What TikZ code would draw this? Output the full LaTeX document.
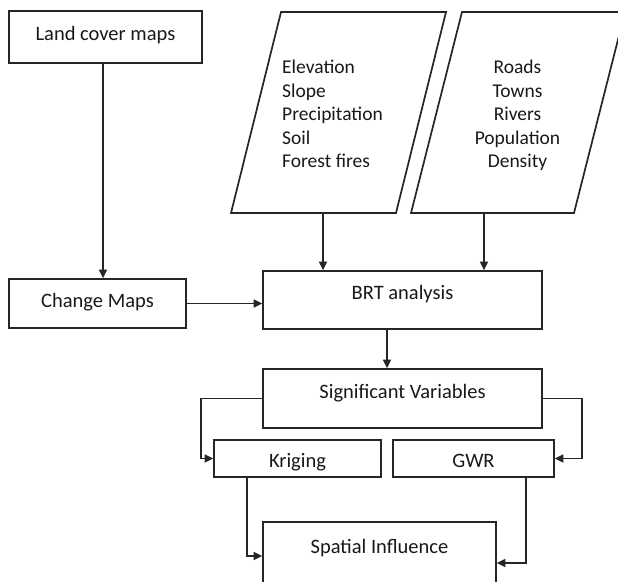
\documentclass[tikz,border=0pt]{standalone}
\usepackage{fontspec}
\setmainfont{Carlito}
\usetikzlibrary{arrows.meta}
\begin{document}
\begin{tikzpicture}[x=1pt,y=-1pt,
  box/.style={draw=black!85, line width=1.7pt, rectangle, inner sep=0pt, font=\fontsize{20.5}{24}\selectfont, text=black!90},
  arr/.style={draw=black!85, line width=1.7pt, -{Triangle[length=8.5pt,width=8pt]}},
  para/.style={draw=black!85, line width=1.7pt, line join=miter},
  ptext/.style={inner sep=0pt, font=\fontsize{19.5}{23.5}\selectfont, text=black!90}]
\useasboundingbox (0,0) rectangle (618,581);
\clip (0,0) rectangle (618,581);
\fill[white] (0,0) rectangle (618,581);

\node[box, minimum width=193pt, text height=29pt, text depth=23pt] (lc) at (105.5,37) {Land cover maps};
\node[box, minimum width=177pt, text height=28pt, text depth=21pt] (cm) at (97.5,303.5) {Change Maps};
\node[box, minimum width=279pt, text height=28pt, text depth=30pt] (brt) at (402.5,300) {BRT analysis};
\node[box, minimum width=279pt, text height=29pt, text depth=30pt] (sv) at (402.5,398.5) {Significant Variables};
\node[box, minimum width=167pt, text height=27pt, text depth=10pt] (kr) at (297.5,458.5) {Kriging};
\node[box, minimum width=161pt, text height=27pt, text depth=10pt] (gwr) at (473.5,458.5) {GWR};
\node[box, minimum width=233pt, text height=31pt, text depth=37pt] (si) at (379.5,556) {Spatial Influence};

\draw[para] (281,12) -- (446,12) -- (396,213) -- (231,213) -- cycle;
\draw[para] (462,12) -- (625,12) -- (574,213) -- (411,213) -- cycle;
\node[ptext, anchor=north west, align=left] (t1) at (282,60) {Elevation\\Slope\\Precipitation\\Soil\\Forest fires};
\node[ptext, anchor=north, align=center] (t2) at (517.5,60) {Roads\\Towns\\Rivers\\Population\\Density};

\coordinate (p1b) at (323,213);
\coordinate (p2b) at (484,213);
\draw[arr] (p1b) -- (p1b |- brt.north);
\draw[arr] (p2b) -- (p2b |- brt.north);
\coordinate (a1) at (103,0);
\draw[arr] (lc.south -| a1) -- (cm.north -| a1);
\draw[arr] (cm.east) -- (cm.east -| brt.west);
\coordinate (a2) at (387,0);
\draw[arr] (brt.south -| a2) -- (sv.north -| a2);
\draw[arr] (sv.west) -- ++(-61,0) |- (kr.west);
\draw[arr] (sv.east) -- ++(39,0) |- (gwr.east);
\coordinate (a3) at (247,0);
\draw[arr] (kr.south -| a3) |- (si.west);
\coordinate (a4) at (526,563);
\draw[arr] (gwr.south -| a4) |- (si.east |- a4);
\end{tikzpicture}
\end{document}
